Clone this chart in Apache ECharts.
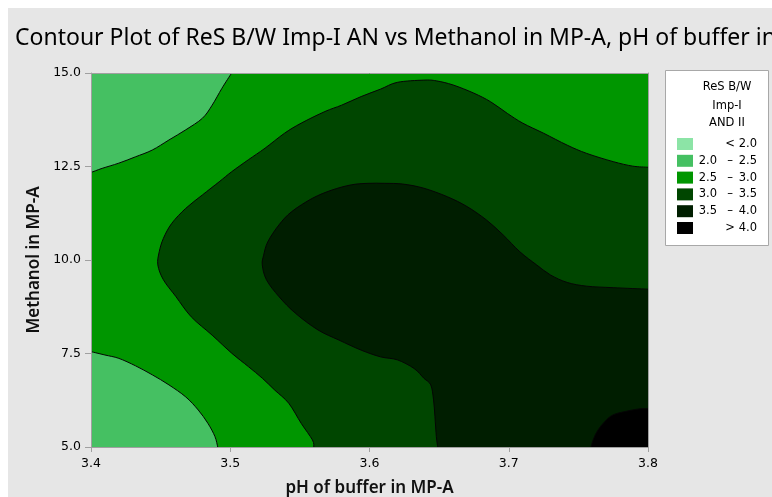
<!DOCTYPE html>
<html>
<head>
<meta charset="utf-8">
<script src="https://cdn.jsdelivr.net/npm/echarts@6/dist/echarts.min.js"></script>
<style>
  html, body { margin: 0; padding: 0; background: #ffffff; }
  #chart { width: 772px; height: 497px; }
</style>
</head>
<body>
<div id="chart"></div>
<script>
// Axis ticks
const phTicks = [3.4, 3.5, 3.6, 3.7, 3.8];
const methanolTicks = [5.0, 7.5, 10.0, 12.5, 15.0];

// Response bands of ReS B/W Imp-I AND II (null = open end)
const bandLow  = [null, 2.0, 2.5, 3.0, 3.5, 4.0];
const bandHigh = [2.0, 2.5, 3.0, 3.5, 4.0, null];

// Contour lines as [pH, methanol] points
// 2.5 level, upper-left pocket
const contour25Upper = [
  [3.501, 15.00], [3.494, 14.59], [3.487, 14.14], [3.480, 13.79], [3.468, 13.48],
  [3.456, 13.21], [3.444, 12.94], [3.432, 12.76], [3.420, 12.59], [3.408, 12.45],
  [3.400, 12.34]
];
// 2.5 level, lower-left pocket
const contour25Lower = [
  [3.400, 7.55], [3.410, 7.46], [3.420, 7.37], [3.432, 7.17], [3.444, 6.93],
  [3.456, 6.66], [3.468, 6.34], [3.477, 5.99], [3.484, 5.63], [3.489, 5.28],
  [3.491, 5.00]
];
// 3.0 level
const contour30 = [
  [3.800, 12.48], [3.789, 12.51], [3.775, 12.63], [3.756, 12.85], [3.742, 13.07],
  [3.725, 13.39], [3.710, 13.66], [3.699, 13.92], [3.687, 14.23], [3.675, 14.46],
  [3.660, 14.68], [3.648, 14.79], [3.639, 14.81], [3.620, 14.75], [3.608, 14.57],
  [3.594, 14.37], [3.580, 14.14], [3.568, 13.97], [3.551, 13.66], [3.539, 13.39],
  [3.525, 12.99], [3.513, 12.68], [3.501, 12.36], [3.492, 12.09], [3.480, 11.74],
  [3.468, 11.38], [3.458, 10.98], [3.452, 10.58], [3.449, 10.22], [3.448, 9.87],
  [3.452, 9.47], [3.461, 9.02], [3.472, 8.48], [3.487, 7.99], [3.501, 7.51],
  [3.513, 7.15], [3.523, 6.84], [3.532, 6.52], [3.542, 6.17], [3.551, 5.63],
  [3.559, 5.19], [3.560, 5.00]
];
// 3.5 level
const contour35 = [
  [3.800, 9.22], [3.775, 9.26], [3.756, 9.30], [3.742, 9.40], [3.730, 9.60],
  [3.720, 9.87], [3.708, 10.22], [3.696, 10.67], [3.684, 11.07], [3.670, 11.43],
  [3.656, 11.69], [3.639, 11.92], [3.624, 12.03], [3.611, 12.05], [3.599, 12.05],
  [3.587, 12.01], [3.573, 11.87], [3.559, 11.65], [3.544, 11.29], [3.535, 10.94],
  [3.527, 10.49], [3.524, 10.13], [3.523, 9.87], [3.526, 9.47], [3.535, 9.02],
  [3.547, 8.57], [3.563, 8.13], [3.578, 7.86], [3.594, 7.59], [3.608, 7.41],
  [3.620, 7.33], [3.632, 7.10], [3.639, 6.84], [3.644, 6.66], [3.646, 6.26],
  [3.647, 5.81], [3.648, 5.28], [3.649, 5.00]
];
// 4.0 level
const contour40 = [
  [3.800, 6.03], [3.794, 6.02], [3.785, 5.96], [3.775, 5.86], [3.769, 5.68],
  [3.764, 5.45], [3.761, 5.23], [3.759, 5.00]
];

// ---- styling ----
const bandColors = ['#8ce4a6', '#45c062', '#009600', '#004600', '#001e00', '#000000'];
const FONT = 'DejaVu Sans';
const TITLE_FONT = 'Noto Sans';

const phMin = phTicks[0], phMax = phTicks[phTicks.length - 1];
const mMin = methanolTicks[0], mMax = methanolTicks[methanolTicks.length - 1];

// Smooth contour shape: Catmull-Rom curve through the points,
// optionally closed with straight edges through plot corners.
const ContourShape = echarts.graphic.extendShape({
  shape: { points: [], corners: [] },
  buildPath: function (ctx, shape) {
    const p = shape.points;
    const n = p.length;
    if (!n) return;
    ctx.moveTo(p[0][0], p[0][1]);
    for (let i = 0; i < n - 1; i++) {
      const p0 = p[Math.max(i - 1, 0)], p1 = p[i], p2 = p[i + 1], p3 = p[Math.min(i + 2, n - 1)];
      ctx.bezierCurveTo(
        p1[0] + (p2[0] - p0[0]) / 6, p1[1] + (p2[1] - p0[1]) / 6,
        p2[0] - (p3[0] - p1[0]) / 6, p2[1] - (p3[1] - p1[1]) / 6,
        p2[0], p2[1]
      );
    }
    const c = shape.corners || [];
    if (c.length) {
      c.forEach(function (q) { ctx.lineTo(q[0], q[1]); });
      ctx.closePath();
    }
  }
});
echarts.graphic.registerShape('contourShape', ContourShape);

// Filled regions: each contour closed along the plot corners
const regions = [
  { band: 2, line: [[phMin, mMin], [phMax, mMin]], corners: [[phMax, mMax], [phMin, mMax]] },
  { band: 1, line: contour25Upper, corners: [[phMin, mMax]] },
  { band: 1, line: contour25Lower, corners: [[phMin, mMin]] },
  { band: 3, line: contour30, corners: [[phMax, mMin]] },
  { band: 4, line: contour35, corners: [[phMax, mMin]] },
  { band: 5, line: contour40, corners: [[phMax, mMin]] }
];
const contourLines = [contour25Upper, contour25Lower, contour30, contour35, contour40];

function clipRect(params) {
  const c = params.coordSys;
  return { x: c.x, y: c.y, width: c.width, height: c.height };
}

const series = [];
regions.forEach(function (r, i) {
  series.push({
    type: 'custom',
    name: 'region' + i,
    z: 2 + i,
    silent: true,
    data: r.line,
    renderItem: function (params, api) {
      if (params.dataIndex !== 0) return null;
      return {
        type: 'contourShape',
        shape: {
          points: r.line.map(function (p) { return api.coord(p); }),
          corners: r.corners.map(function (p) { return api.coord(p); })
        },
        style: { fill: bandColors[r.band], stroke: null },
        clipPath: { type: 'rect', shape: clipRect(params) }
      };
    }
  });
});
contourLines.forEach(function (line, i) {
  series.push({
    type: 'custom',
    name: 'contour' + i,
    z: 20,
    silent: true,
    data: line,
    renderItem: function (params, api) {
      if (params.dataIndex !== 0) return null;
      return {
        type: 'contourShape',
        shape: { points: line.map(function (p) { return api.coord(p); }), corners: [] },
        style: { stroke: '#050505', lineWidth: 1, fill: null }
      };
    }
  });
});

// Legend drawn as graphic elements
const fmt = function (v) { return v == null ? '' : v.toFixed(1); };
const LF = '11.5px "' + FONT + '"';
const legendChildren = [
  { type: 'rect', shape: { x: 665.5, y: 70.5, width: 103, height: 175 },
    style: { fill: '#ffffff', stroke: '#a8a8a8', lineWidth: 1 } },
  { type: 'text', x: 727, y: 87, style: { text: 'ReS B/W', font: LF, fill: '#000', align: 'center', verticalAlign: 'middle' } },
  { type: 'text', x: 727, y: 106, style: { text: 'Imp-I', font: LF, fill: '#000', align: 'center', verticalAlign: 'middle' } },
  { type: 'text', x: 727, y: 123, style: { text: 'AND II', font: LF, fill: '#000', align: 'center', verticalAlign: 'middle' } }
];
bandColors.forEach(function (col, i) {
  const cy = 144 + i * 16.8;
  legendChildren.push({ type: 'rect', shape: { x: 677, y: cy - 6, width: 16, height: 12 }, style: { fill: col } });
  const lo = bandLow[i], hi = bandHigh[i];
  let left = '', sep = '', right = '';
  if (lo == null) { sep = '<'; right = fmt(hi); }
  else if (hi == null) { sep = '>'; right = fmt(lo); }
  else { left = fmt(lo); sep = '\u2013'; right = fmt(hi); }
  legendChildren.push({ type: 'text', x: 717, y: cy, style: { text: left, font: LF, fill: '#000', align: 'right', verticalAlign: 'middle' } });
  legendChildren.push({ type: 'text', x: 730, y: cy, style: { text: sep, font: LF, fill: '#000', align: 'center', verticalAlign: 'middle' } });
  legendChildren.push({ type: 'text', x: 757, y: cy, style: { text: right, font: LF, fill: '#000', align: 'right', verticalAlign: 'middle' } });
});

const axisLineStyle = { color: '#a0a0a0', width: 1 };
const labelStyle = { fontFamily: FONT, fontSize: 12.5, color: '#000' };
const nameStyle = { fontFamily: TITLE_FONT, fontSize: 17, fontWeight: 600, color: '#111' };

const option = {
  animation: false,
  backgroundColor: '#e6e6e6',
  title: {
    text: 'Contour Plot of ReS B/W Imp-I AN vs Methanol in MP-A, pH of buffer in',
    left: 10, top: 22,
    textStyle: { fontFamily: TITLE_FONT, fontSize: 23, fontWeight: 'normal', color: '#000' }
  },
  grid: { left: 91, top: 73, width: 557, height: 374, containLabel: false, outerBoundsMode: 'none' },
  xAxis: [{
    type: 'value', min: phMin, max: phMax, interval: phTicks[1] - phTicks[0],
    z: 30,
    axisLine: { show: true, onZero: false, lineStyle: axisLineStyle },
    axisTick: { show: true, length: 5, lineStyle: axisLineStyle },
    splitLine: { show: false },
    axisLabel: { margin: 10, formatter: function (v) { return v.toFixed(1); }, ...labelStyle },
    name: 'pH of buffer in MP-A', nameLocation: 'middle', nameGap: 33,
    nameTextStyle: nameStyle
  }, {
    type: 'value', position: 'top', min: phMin, max: phMax, z: 30,
    axisLine: { show: true, onZero: false, lineStyle: axisLineStyle },
    axisTick: { show: false }, axisLabel: { show: false }, splitLine: { show: false }
  }],
  yAxis: [{
    type: 'value', min: mMin, max: mMax, interval: methanolTicks[1] - methanolTicks[0],
    z: 30,
    axisLine: { show: true, onZero: false, lineStyle: axisLineStyle },
    axisTick: { show: true, length: 6, lineStyle: axisLineStyle },
    splitLine: { show: false },
    axisLabel: { margin: 10, formatter: function (v) { return v.toFixed(1); }, ...labelStyle },
    name: 'Methanol in MP-A', nameLocation: 'middle', nameGap: 42,
    nameTextStyle: nameStyle
  }, {
    type: 'value', position: 'right', min: mMin, max: mMax, z: 30,
    axisLine: { show: true, onZero: false, lineStyle: axisLineStyle },
    axisTick: { show: false }, axisLabel: { show: false }, splitLine: { show: false }
  }],
  graphic: [
    { type: 'rect', shape: { x: 0, y: 0, width: 772, height: 8 }, style: { fill: '#ffffff' }, silent: true },
    { type: 'rect', shape: { x: 0, y: 0, width: 8, height: 497 }, style: { fill: '#ffffff' }, silent: true },
    { type: 'group', children: legendChildren, silent: true }
  ],
  series: series
};

const chart = echarts.init(document.getElementById('chart'), null, { renderer: 'canvas' });
chart.setOption(option);
</script>
</body>
</html>
